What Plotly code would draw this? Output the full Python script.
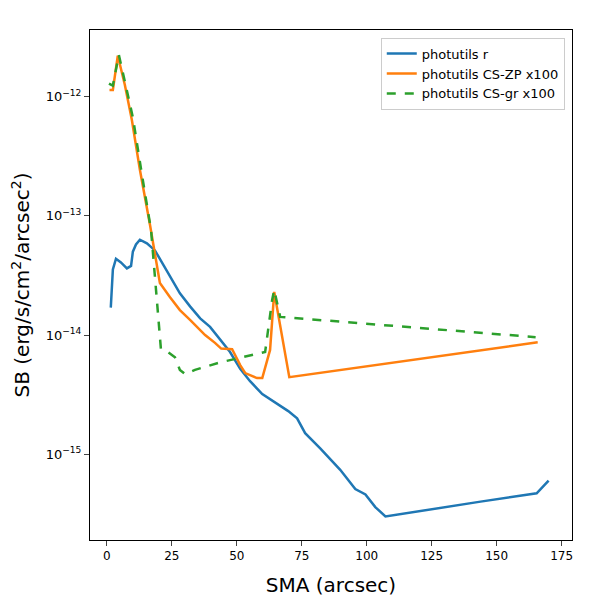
import plotly.graph_objects as go

# photutils r profile
sma_r = [1.5, 2.3, 3.5, 5.4, 7.7, 9.3, 10.0, 11.2, 12.7, 15.4, 18.5, 21.2, 24.3, 28.1, 32.0,
         35.9, 39.7, 43.6, 47.4, 51.3, 55.1, 59.8, 64.8, 69.8, 73.2, 76.3, 82.1, 89.8, 95.6,
         99.5, 103.3, 105.2, 107.2, 143.8, 165.4, 170.0]
sb_r = [1.70e-14, 3.55e-14, 4.37e-14, 4.07e-14, 3.63e-14, 3.80e-14, 5.01e-14, 5.75e-14, 6.31e-14,
        5.89e-14, 5.13e-14, 4.07e-14, 3.09e-14, 2.24e-14, 1.74e-14, 1.38e-14, 1.17e-14, 9.1e-15,
        7.2e-15, 5.2e-15, 4.1e-15, 3.2e-15, 2.7e-15, 2.3e-15, 2.0e-15, 1.5e-15, 1.12e-15, 7.4e-16,
        5.1e-16, 4.6e-16, 3.6e-16, 3.3e-16, 3.0e-16, 4.0e-16, 4.7e-16, 6.0e-16]

# CS-ZP x100
sma_zp = [1.0, 2.3, 4.2, 6.9, 9.6, 12.7, 16.6, 20.4, 24.3, 28.1, 32.0, 37.8, 41.6, 44.0, 48.2,
          51.3, 53.2, 57.8, 59.8, 62.8, 64.4, 66.3, 70.2, 165.8]
sb_zp = [1.14e-12, 1.14e-12, 2.21e-12, 1.26e-12, 6.4e-13, 2.44e-13, 8.4e-14, 2.73e-14, 2.08e-14,
         1.62e-14, 1.34e-14, 1.0e-14, 8.6e-15, 7.7e-15, 7.6e-15, 5.6e-15, 4.8e-15, 4.35e-15,
         4.35e-15, 7.5e-15, 2.3e-14, 1.34e-14, 4.43e-15, 8.7e-15]

# CS-gr x100
sma_gr = [0.8, 2.3, 4.6, 7.3, 10.0, 13.5, 17.0, 20.8, 23.5, 26.2, 28.1, 30.1, 33.9, 43.6,
          60.9, 63.6, 64.4, 66.7, 165.0]
sb_gr = [1.29e-12, 1.24e-12, 2.25e-12, 1.26e-12, 6.7e-13, 2.21e-13, 7.6e-14, 7.6e-15, 7.2e-15,
         6.5e-15, 5.1e-15, 4.7e-15, 5.1e-15, 5.9e-15, 7.2e-15, 1.97e-14, 2.39e-14, 1.42e-14, 9.6e-15]

x_ticks = [0, 25, 50, 75, 100, 125, 150, 175]
y_ticks = [1e-15, 1e-14, 1e-13, 1e-12]
y_labels = ["10<sup>\u221215</sup>", "10<sup>\u221214</sup>", "10<sup>\u221213</sup>", "10<sup>\u221212</sup>"]

fig = go.Figure()
fig.add_trace(go.Scatter(x=sma_r, y=sb_r, mode="lines", name="photutils r",
                         line=dict(color="#1f77b4", width=2.5)))
fig.add_trace(go.Scatter(x=sma_zp, y=sb_zp, mode="lines", name="photutils CS-ZP x100",
                         line=dict(color="#ff7f0e", width=2.5)))
fig.add_trace(go.Scatter(x=sma_gr, y=sb_gr, mode="lines", name="photutils CS-gr x100",
                         line=dict(color="#2ca02c", width=2.5, dash="dash")))

axis_style = dict(showline=True, linecolor="black", mirror=True, ticks="outside",
                  showgrid=False, zeroline=False, tickfont=dict(size=12, color="black"),
                  automargin=False)
fig.update_xaxes(range=[-6.5, 179], tickvals=x_ticks,
                 title=dict(text="SMA (arcsec)", font=dict(size=20)), **axis_style)
fig.update_yaxes(type="log", range=[-15.72, -11.44], tickvals=y_ticks, ticktext=y_labels,
                 tickfont=dict(size=13, color="black"),
                 title=dict(text="SB (erg/s/cm<sup>2</sup>/arcsec<sup>2</sup>)", font=dict(size=20)),
                 **{k: v for k, v in axis_style.items() if k != "tickfont"})

fig.update_layout(
    width=600, height=600,
    margin=dict(l=82, r=36, t=22, b=68),
    plot_bgcolor="white", paper_bgcolor="white",
    font=dict(family="DejaVu Sans", color="black"),
    legend=dict(x=0.985, y=0.985, xanchor="right", yanchor="top",
                bordercolor="#cccccc", borderwidth=1, font=dict(size=13)),
)

fig.write_html("out.html")
